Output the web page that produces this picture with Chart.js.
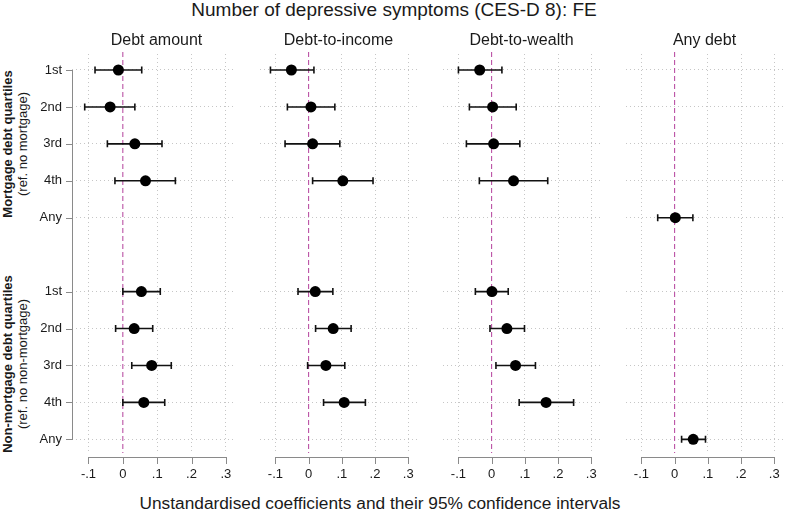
<!DOCTYPE html>
<html>
<head>
<meta charset="utf-8">
<script src="https://cdn.jsdelivr.net/npm/chart.js@4"></script>
<style>
  body { margin: 0; background: #fff; font-family: "Liberation Sans", Arial, sans-serif; color: #1a1a1a; }
  #wrap { position: relative; width: 789px; height: 512px; overflow: hidden; background: #fff; }
  canvas { position: absolute; top: 0; }
  .t { position: absolute; white-space: nowrap; transform: translate(-50%, -50%); }
  .grp { position: absolute; white-space: nowrap; text-align: center; font-size: 13px; line-height: 14.5px;
         transform: translate(-50%, -50%) rotate(-90deg); }
  .grp b { font-weight: bold; }
  .rule { position: absolute; background: #8a8a8a; z-index: 5; }
</style>
</head>
<body>
<div id="wrap">
  <div class="t" style="left:394px;top:10px;font-size:19px">Number of depressive symptoms (CES-D 8): FE</div>
  <div class="t" style="left:380px;top:503px;font-size:17.3px">Unstandardised coefficients and their 95% confidence intervals</div>
  <div class="grp" style="left:15px;top:144px"><b>Mortgage debt quartiles</b><br>(ref. no mortgage)</div>
  <div class="grp" style="left:15px;top:364px"><b>Non-mortgage debt quartiles</b><br>(ref. no non-mortgage)</div>
</div>
<script>
// categories / ticks
var panelTitles = ['Debt amount', 'Debt-to-income', 'Debt-to-wealth', 'Any debt'];
var rowLabels = ['1st', '2nd', '3rd', '4th', 'Any', '1st', '2nd', '3rd', '4th', 'Any'];
var rowPos = [0, 1, 2, 3, 4, 6, 7, 8, 9, 10];
var xTicks = [-0.1, 0, 0.1, 0.2, 0.3];
var xTickLabels = ['-.1', '0', '.1', '.2', '.3'];

// Debt amount
var amountCoef = [-0.013, -0.037, 0.035, 0.066, null, 0.054, 0.033, 0.084, 0.061, null];
var amountLo   = [-0.081, -0.111, -0.045, -0.023, null, 0.000, -0.021, 0.026, 0.000, null];
var amountHi   = [0.055, 0.035, 0.114, 0.153, null, 0.109, 0.087, 0.141, 0.122, null];

// Debt-to-income
var incomeCoef = [-0.052, 0.007, 0.012, 0.103, null, 0.020, 0.074, 0.052, 0.107, null];
var incomeLo   = [-0.115, -0.064, -0.071, 0.012, null, -0.032, 0.021, -0.003, 0.045, null];
var incomeHi   = [0.016, 0.079, 0.094, 0.194, null, 0.073, 0.128, 0.109, 0.171, null];

// Debt-to-wealth
var wealthCoef = [-0.036, 0.003, 0.006, 0.066, null, 0.001, 0.046, 0.072, 0.164, null];
var wealthLo   = [-0.100, -0.067, -0.076, -0.037, null, -0.049, -0.005, 0.013, 0.083, null];
var wealthHi   = [0.031, 0.074, 0.085, 0.169, null, 0.050, 0.099, 0.132, 0.247, null];

// Any debt
var anyCoef = [null, null, null, null, 0.002, null, null, null, null, 0.056];
var anyLo   = [null, null, null, null, -0.051, null, null, null, null, 0.021];
var anyHi   = [null, null, null, null, 0.055, null, null, null, null, 0.093];

var series = [
    [amountCoef, amountLo, amountHi],
    [incomeCoef, incomeLo, incomeHi],
    [wealthCoef, wealthLo, wealthHi],
    [anyCoef, anyLo, anyHi]
];

// layout
var plotLeft = [72, 254, 437, 620];
var plotWidth = 169;
var plotTop = 54;
var plotHeight = 399;
var xMin = -0.148, xMax = 0.328;
var yMin = -0.433, yMax = 10.37;
var fontFamily = '"Liberation Sans", Arial, sans-serif';
var gridColor = '#c6c6c6';
var ruleGray = '#8a8a8a';

var wrap = document.getElementById('wrap');

/* rectangles of the short axis lines and their outward ticks, from the scales */
var axisRects = function (chart, withYAxis) {
    var area = chart.chartArea, sx = chart.scales.x, sy = chart.scales.y;
    var rects = [];
    var yb = Math.round(area.bottom) + 4;
    var xa = Math.round(sx.getPixelForValue(xTicks[0]));
    var xb = Math.round(sx.getPixelForValue(xTicks[xTicks.length - 1]));
    rects.push([xa, yb, xb - xa + 1, 1]);
    xTicks.forEach(function (v) {
        rects.push([Math.round(sx.getPixelForValue(v)), yb, 1, 7]);
    });
    if (withYAxis) {
        var xl = Math.round(area.left);
        var ya = Math.round(sy.getPixelForValue(rowPos[0]));
        var yz = Math.round(sy.getPixelForValue(rowPos[rowPos.length - 1]));
        rects.push([xl, ya, 1, yz - ya + 1]);
        rowPos.forEach(function (v) {
            rects.push([xl - 6, Math.round(sy.getPixelForValue(v)), 7, 1]);
        });
    }
    return rects;
};

/* zero line and error bars */
var makeDecor = function (withYAxis) {
    return {
        id: 'decor',
        beforeDatasetsDraw: function (chart) {
            var ctx = chart.ctx, area = chart.chartArea, x = chart.scales.x, y = chart.scales.y;
            ctx.save();
            var x0 = x.getPixelForValue(0);
            ctx.strokeStyle = '#b4419c';
            ctx.lineWidth = 1;
            ctx.setLineDash([5, 3]);
            ctx.beginPath();
            ctx.moveTo(x0, area.top - 2);
            ctx.lineTo(x0, area.bottom);
            ctx.stroke();
            ctx.setLineDash([]);
            ctx.strokeStyle = '#111';
            ctx.lineWidth = 1.6;
            chart.data.datasets[0].data.forEach(function (p) {
                var yy = y.getPixelForValue(p.y);
                var a = x.getPixelForValue(p.lo), b = x.getPixelForValue(p.hi);
                ctx.beginPath();
                ctx.moveTo(a, yy); ctx.lineTo(b, yy);
                ctx.moveTo(a, yy - 3.5); ctx.lineTo(a, yy + 3.5);
                ctx.moveTo(b, yy - 3.5); ctx.lineTo(b, yy + 3.5);
                ctx.stroke();
            });
            ctx.restore();
        },
        afterDraw: function (chart) {
            var ctx = chart.ctx;
            ctx.save();
            ctx.fillStyle = ruleGray;
            axisRects(chart, withYAxis).forEach(function (r) {
                ctx.fillRect(r[0], r[1], r[2], r[3]);
            });
            ctx.restore();
        }
    };
};

function makePanel(i) {
    var first = i === 0;
    var coef = series[i][0], lo = series[i][1], hi = series[i][2];
    var pts = [];
    for (var k = 0; k < coef.length; k++) {
        if (coef[k] !== null) {
            pts.push({x: coef[k], y: rowPos[k], lo: lo[k], hi: hi[k]});
        }
    }

    var canvasLeft = first ? 0 : plotLeft[i];
    var canvasWidth = first ? plotLeft[0] + plotWidth : plotWidth;
    var canvas = document.createElement('canvas');
    canvas.width = canvasWidth;
    canvas.height = 512;
    canvas.style.left = canvasLeft + 'px';
    wrap.appendChild(canvas);

    var title = document.createElement('div');
    title.className = 't';
    title.style.left = (plotLeft[i] + plotWidth / 2) + 'px';
    title.style.top = '40px';
    title.style.fontSize = '16px';
    title.textContent = panelTitles[i];
    wrap.appendChild(title);

    var chart = new Chart(canvas, {
        type: 'scatter',
        data: {
            datasets: [{
                data: pts,
                pointRadius: 5.5,
                pointBackgroundColor: '#000',
                pointBorderColor: '#000',
                pointBorderWidth: 0
            }]
        },
        options: {
            responsive: false,
            animation: false,
            devicePixelRatio: 1,
            layout: {padding: {top: plotTop, left: 0, right: 0, bottom: 0}},
            plugins: {legend: {display: false}, tooltip: {enabled: false}},
            scales: {
                x: {
                    type: 'linear',
                    min: xMin,
                    max: xMax,
                    afterBuildTicks: function (s) {
                        s.ticks = xTicks.map(function (v) { return {value: v}; });
                    },
                    afterFit: function (s) {
                        s.height = 512 - plotTop - plotHeight;
                        s.paddingLeft = 0;
                        s.paddingRight = 0;
                    },
                    ticks: {
                        autoSkip: false,
                        maxRotation: 0,
                        padding: 14,
                        color: '#1a1a1a',
                        font: {size: 13, family: fontFamily},
                        callback: function (v, idx) { return xTickLabels[idx]; }
                    },
                    grid: {
                        drawTicks: false,
                        lineWidth: 1,
                        color: function (c) {
                            return (c.tick && c.tick.value === 0) ? 'rgba(0,0,0,0)' : gridColor;
                        }
                    },
                    border: {display: false, dash: [1, 3]}
                },
                y: {
                    type: 'linear',
                    reverse: true,
                    min: yMin,
                    max: yMax,
                    afterBuildTicks: function (s) {
                        s.ticks = rowPos.map(function (v) { return {value: v}; });
                    },
                    afterFit: function (s) {
                        s.width = first ? plotLeft[0] : 0;
                        s.paddingTop = 0;
                        s.paddingBottom = 0;
                    },
                    ticks: {
                        display: first,
                        autoSkip: false,
                        padding: 10,
                        color: '#1a1a1a',
                        font: {size: 13, family: fontFamily},
                        callback: function (v, idx) { return rowLabels[idx]; }
                    },
                    grid: {drawTicks: false, lineWidth: 1, color: gridColor},
                    border: {display: false, dash: [1, 3]}
                }
            }
        },
        plugins: [makeDecor(first)]
    });

    // same axis rectangles laid over the canvas as page elements
    axisRects(chart, first).forEach(function (r) {
        var d = document.createElement('div');
        d.className = 'rule';
        d.style.left = (canvasLeft + r[0]) + 'px';
        d.style.top = r[1] + 'px';
        d.style.width = r[2] + 'px';
        d.style.height = r[3] + 'px';
        wrap.appendChild(d);
    });
}

for (var i = 0; i < panelTitles.length; i++) {
    makePanel(i);
}
</script>
</body>
</html>
